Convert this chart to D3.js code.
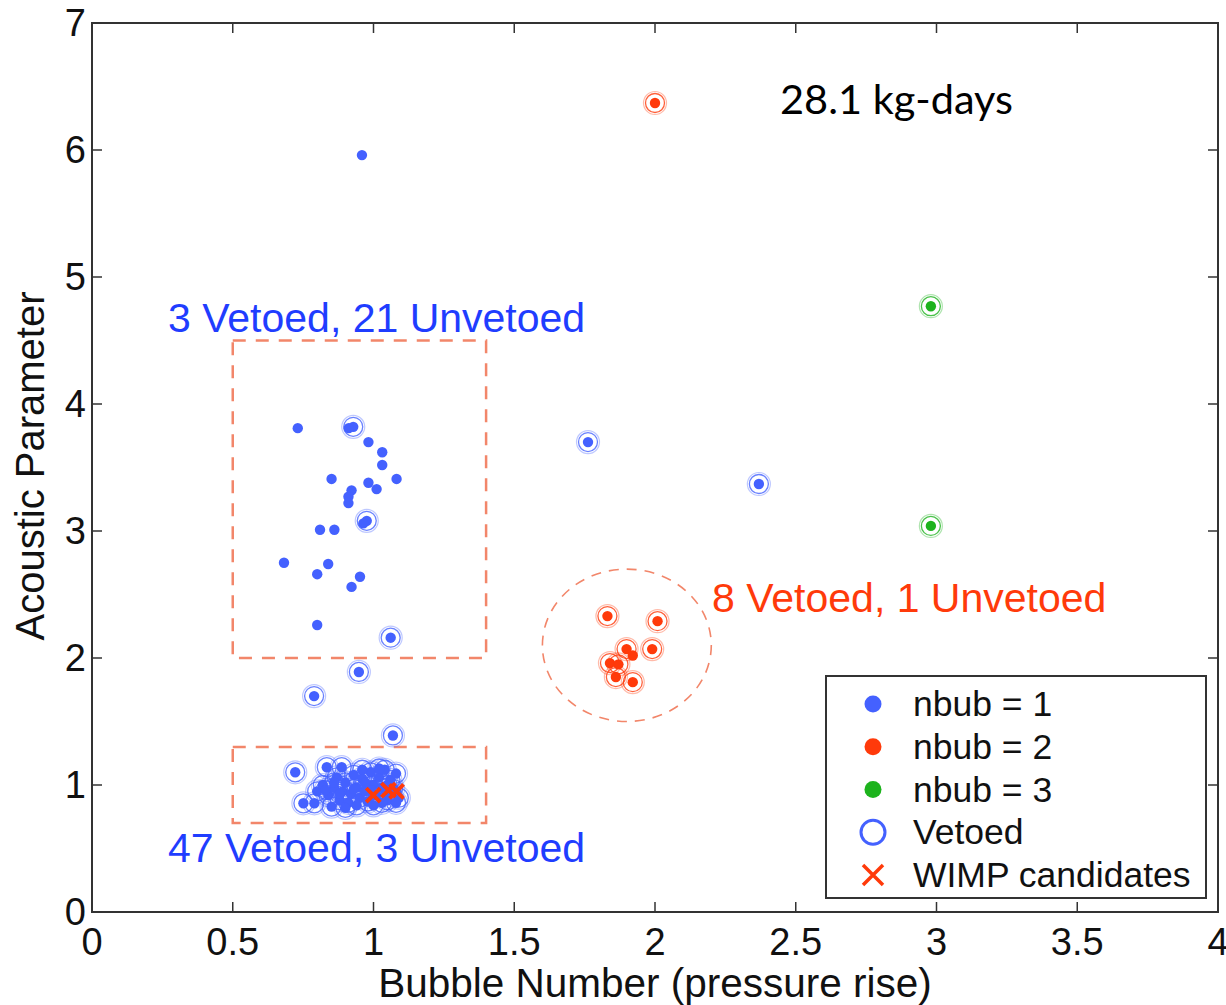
<!DOCTYPE html>
<html>
<head>
  <meta charset="utf-8">
  <title>Acoustic Parameter vs Bubble Number</title>
  <script src="https://d3js.org/d3.v7.min.js"></script>
  <style>
    body { margin: 0; background: #fff; }
    text { font-family: "Liberation Sans", Arial, Helvetica, sans-serif; }
  </style>
</head>
<body>
<div id="vis"></div>
<script>
  // x = bubble number (pressure rise), y = acoustic parameter
  // nbub = 1 events
  var nbub1Unvetoed = [
    [0.731, 3.81], [0.912, 3.81], [0.982, 3.70], [1.031, 3.62], [1.031, 3.52],
    [1.082, 3.41], [0.851, 3.41], [0.982, 3.38], [1.011, 3.33], [0.922, 3.32],
    [0.911, 3.27], [0.911, 3.22], [0.964, 3.06], [0.810, 3.01], [0.861, 3.01],
    [0.682, 2.75], [0.839, 2.74], [0.800, 2.66], [0.952, 2.64], [0.922, 2.56],
    [0.800, 2.26], [0.959, 5.96],
    [0.999, 0.92], [1.053, 0.96], [1.082, 0.95]
  ];
  var nbub1Vetoed = [
    [0.928, 3.82], [0.976, 3.08], [1.061, 2.16],
    [0.948, 1.89], [0.789, 1.70], [1.069, 1.39],
    [1.762, 3.70], [2.369, 3.37],
    // low cluster, 47 vetoed
    [0.722, 1.10], [0.834, 1.14], [0.887, 1.14], [0.751, 0.856], [0.790, 0.856],
    [0.851, 0.83], [0.80, 0.95], [0.82, 1.00], [0.84, 0.92], [0.86, 0.98],
    [0.87, 1.06], [0.88, 0.88], [0.89, 0.95], [0.90, 1.02], [0.91, 0.86],
    [0.92, 0.93], [0.93, 1.08], [0.94, 0.98], [0.95, 0.90], [0.96, 1.05],
    [0.97, 0.95], [0.98, 0.87], [0.99, 1.10], [1.00, 1.00], [1.01, 0.92],
    [1.02, 1.06], [1.03, 0.98], [1.04, 1.12], [1.05, 0.88], [1.06, 1.04],
    [1.07, 0.97], [1.08, 1.09], [1.09, 0.90], [1.08, 0.86], [1.02, 1.13],
    [0.96, 1.12], [0.90, 0.82], [0.94, 0.84], [1.00, 0.84], [0.86, 1.02],
    [0.83, 0.96], [0.93, 0.97], [0.99, 0.96], [1.05, 1.00], [0.88, 0.93],
    [1.03, 0.86], [0.97, 1.02]
  ];
  // nbub = 2 events
  var nbub2Unvetoed = [[1.921, 2.02]];
  var nbub2Vetoed = [
    [2.000, 6.37],
    [1.831, 2.33], [2.009, 2.29], [1.990, 2.07], [1.899, 2.07],
    [1.840, 1.96], [1.870, 1.95], [1.861, 1.85], [1.921, 1.81]
  ];
  // nbub = 3 events
  var nbub3Vetoed = [[2.98, 4.77], [2.98, 3.04]];
  // WIMP candidates
  var wimps = [[0.999, 0.92], [1.053, 0.96], [1.082, 0.95]];

  var xTicks = [0, 0.5, 1, 1.5, 2, 2.5, 3, 3.5, 4];
  var xTickLabels = ['0', '0.5', '1', '1.5', '2', '2.5', '3', '3.5', '4'];
  var yTicks = [0, 1, 2, 3, 4, 5, 6, 7];

  var legendLabels = ['nbub = 1', 'nbub = 2', 'nbub = 3', 'Vetoed', 'WIMP candidates'];

  var blue = '#4461ff', red = '#ff3a0a', green = '#1db31d';
  var dashCol = '#f2866a';

  var W = 1226, H = 1005;
  var margin = { left: 92, right: 8, top: 23, bottom: 93 };

  var svg = d3.select('#vis').append('svg')
    .attr('width', W).attr('height', H);

  var x = d3.scaleLinear().domain([0, 4]).range([margin.left, W - margin.right]);
  var y = d3.scaleLinear().domain([0, 7]).range([H - margin.bottom, margin.top]);

  // dashed regions
  svg.append('rect')
    .attr('x', x(0.5)).attr('y', y(4.5))
    .attr('width', x(1.4) - x(0.5)).attr('height', y(2.0) - y(4.5))
    .attr('fill', 'none').attr('stroke', dashCol).attr('stroke-width', 2.5)
    .attr('stroke-dasharray', '13 10');
  svg.append('rect')
    .attr('x', x(0.5)).attr('y', y(1.3))
    .attr('width', x(1.4) - x(0.5)).attr('height', y(0.7) - y(1.3))
    .attr('fill', 'none').attr('stroke', dashCol).attr('stroke-width', 2.5)
    .attr('stroke-dasharray', '13 10');
  svg.append('ellipse')
    .attr('cx', x(1.9)).attr('cy', y(2.1))
    .attr('rx', x(0.3) - x(0)).attr('ry', y(0) - y(0.6))
    .attr('fill', 'none').attr('stroke', dashCol).attr('stroke-width', 1.6)
    .attr('stroke-dasharray', '10 8');

  // axes box
  var plot = svg.append('g');
  plot.append('rect')
    .attr('x', x(0)).attr('y', y(7))
    .attr('width', x(4) - x(0)).attr('height', y(0) - y(7))
    .attr('fill', 'none').attr('stroke', '#333').attr('stroke-width', 2);

  var tl = 10;
  xTicks.forEach(function (t) {
    plot.append('line').attr('x1', x(t)).attr('x2', x(t))
      .attr('y1', y(0)).attr('y2', y(0) - tl).attr('stroke', '#333').attr('stroke-width', 1.5);
    plot.append('line').attr('x1', x(t)).attr('x2', x(t))
      .attr('y1', y(7)).attr('y2', y(7) + tl).attr('stroke', '#333').attr('stroke-width', 1.5);
  });
  yTicks.forEach(function (t) {
    plot.append('line').attr('x1', x(0)).attr('x2', x(0) + tl)
      .attr('y1', y(t)).attr('y2', y(t)).attr('stroke', '#333').attr('stroke-width', 1.5);
    plot.append('line').attr('x1', x(4)).attr('x2', x(4) - tl)
      .attr('y1', y(t)).attr('y2', y(t)).attr('stroke', '#333').attr('stroke-width', 1.5);
  });

  svg.selectAll('.xtl').data(xTicks).enter().append('text')
    .attr('x', d => x(d)).attr('y', y(0) + 43)
    .attr('text-anchor', 'middle').attr('font-size', 38).attr('fill', '#111')
    .text((d, i) => xTickLabels[i]);
  svg.selectAll('.ytl').data(yTicks).enter().append('text')
    .attr('x', x(0) - 6).attr('y', d => y(d) + 13)
    .attr('text-anchor', 'end').attr('font-size', 38).attr('fill', '#111')
    .text(d => d);

  svg.append('text')
    .attr('x', 655).attr('y', 997)
    .attr('text-anchor', 'middle').attr('font-size', 40.5).attr('fill', '#111')
    .text('Bubble Number (pressure rise)');
  svg.append('text')
    .attr('transform', 'translate(44,' + 466 + ') rotate(-90)')
    .attr('text-anchor', 'middle').attr('font-size', 40).attr('fill', '#111')
    .text('Acoustic Parameter');

  // markers
  function rings(data, col) {
    var g = svg.append('g');
    g.selectAll('circle.o').data(data).enter().append('circle')
      .attr('cx', d => x(d[0])).attr('cy', d => y(d[1])).attr('r', 11.5)
      .attr('fill', 'none').attr('stroke', col).attr('stroke-opacity', 0.35).attr('stroke-width', 1.2);
    g.selectAll('circle.i').data(data).enter().append('circle')
      .attr('cx', d => x(d[0])).attr('cy', d => y(d[1])).attr('r', 9.5)
      .attr('fill', 'none').attr('stroke', col).attr('stroke-opacity', 0.8).attr('stroke-width', 1.3);
  }
  function dots(data, col) {
    svg.append('g').selectAll('circle').data(data).enter().append('circle')
      .attr('cx', d => x(d[0])).attr('cy', d => y(d[1])).attr('r', 5.2)
      .attr('fill', col);
  }

  rings(nbub1Vetoed, blue);
  dots(nbub1Vetoed, blue);
  dots(nbub1Unvetoed, blue);
  rings(nbub2Vetoed, red);
  dots(nbub2Vetoed, red);
  dots(nbub2Unvetoed, red);
  rings(nbub3Vetoed, green);
  dots(nbub3Vetoed, green);

  var xs = 7;
  svg.append('g').selectAll('path').data(wimps).enter().append('path')
    .attr('d', d => {
      var cx = x(d[0]), cy = y(d[1]);
      return 'M' + (cx - xs) + ',' + (cy - xs) + 'L' + (cx + xs) + ',' + (cy + xs) +
        'M' + (cx - xs) + ',' + (cy + xs) + 'L' + (cx + xs) + ',' + (cy - xs);
    })
    .attr('stroke', red).attr('stroke-width', 4).attr('fill', 'none');

  // annotations
  svg.append('text').attr('x', 168).attr('y', 332)
    .attr('font-size', 41).attr('fill', '#1f3dff').text('3 Vetoed, 21 Unvetoed');
  svg.append('text').attr('x', 168).attr('y', 862)
    .attr('font-size', 41).attr('fill', '#1f3dff').text('47 Vetoed, 3 Unvetoed');
  svg.append('text').attr('x', 712).attr('y', 612)
    .attr('font-size', 41).attr('fill', '#ff3a0a').text('8 Vetoed, 1 Unvetoed');
  svg.append('text').attr('x', 780).attr('y', 114)
    .attr('font-size', 41.5).attr('fill', '#000')
    .style('font-family', 'Lato, "Open Sans", sans-serif')
    .text('28.1 kg-days');

  // legend
  var lg = svg.append('g');
  lg.append('rect').attr('x', 826).attr('y', 676).attr('width', 380).attr('height', 222)
    .attr('fill', '#fff').attr('stroke', '#333').attr('stroke-width', 2);
  var ly = d3.scalePoint().domain(legendLabels).range([704, 875]);
  lg.selectAll('text').data(legendLabels).enter().append('text')
    .attr('x', 913).attr('y', d => ly(d) + 12)
    .attr('font-size', 35.5).attr('fill', '#111').text(d => d);
  [blue, red, green].forEach(function (c, i) {
    lg.append('circle').attr('cx', 873).attr('cy', ly(legendLabels[i])).attr('r', 8.5).attr('fill', c);
  });
  lg.append('circle').attr('cx', 873).attr('cy', ly('Vetoed')).attr('r', 12)
    .attr('fill', 'none').attr('stroke', blue).attr('stroke-width', 3);
  var wy = ly('WIMP candidates');
  lg.append('path')
    .attr('d', 'M863,' + (wy - 10) + 'L883,' + (wy + 10) + 'M863,' + (wy + 10) + 'L883,' + (wy - 10))
    .attr('stroke', red).attr('stroke-width', 3.5);
</script>
</body>
</html>
